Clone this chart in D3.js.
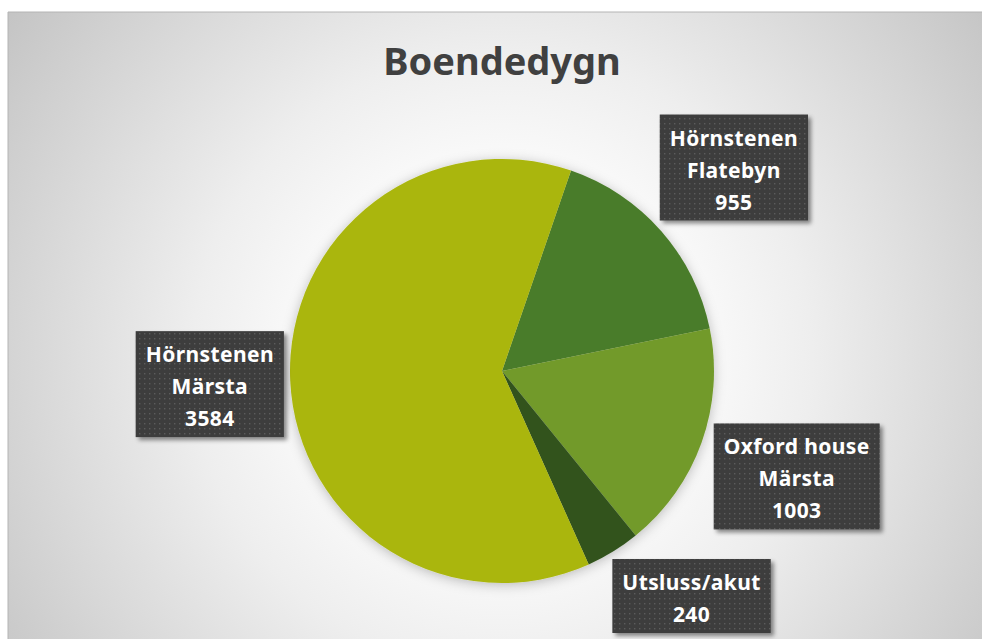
<!DOCTYPE html>
<html lang="sv">
<head>
    <meta charset="UTF-8">
    <title>Boendedygn</title>
    <style>
        body { margin: 0; background: #fff; }
        svg { display: block; }
    </style>
    <script src="https://d3js.org/d3.v7.min.js"></script>
</head>
<body>

<div id="chart"></div>

<script>

    // data
    const categories = ["Hörnstenen Flatebyn", "Oxford house Märsta", "Utsluss/akut", "Hörnstenen Märsta"]
    const labelLines = [["Hörnstenen", "Flatebyn"], ["Oxford house", "Märsta"], ["Utsluss/akut"], ["Hörnstenen", "Märsta"]]
    const values = [955, 1003, 240, 3584]
    const colors = ["#4a7c2a", "#729a2b", "#31531c", "#aab60c"]

    const W = 982, H = 639
    const AREA = { X: 8, Y: 12 }
    const CX = 502, CY = 371, R = 212
    const START = 19 * Math.PI / 180

    const svg = d3.select("#chart").append("svg")
        .attr("width", W)
        .attr("height", H)

    const defs = svg.append("defs")

    const grad = defs.append("radialGradient")
        .attr("id", "bg")
        .attr("gradientUnits", "userSpaceOnUse")
        .attr("cx", CX).attr("cy", 360).attr("r", 620)
    grad.append("stop").attr("offset", 0).attr("stop-color", "#ffffff")
    grad.append("stop").attr("offset", 0.3).attr("stop-color", "#fbfbfb")
    grad.append("stop").attr("offset", 0.5).attr("stop-color", "#eeeeee")
    grad.append("stop").attr("offset", 1).attr("stop-color", "#c2c2c2")

    const dots = defs.append("pattern")
        .attr("id", "dots")
        .attr("patternUnits", "userSpaceOnUse")
        .attr("width", 5).attr("height", 5)
    dots.append("rect").attr("width", 5).attr("height", 5).attr("fill", "#3e3e3e")
    dots.append("rect").attr("x", 2).attr("y", 2).attr("width", 1.4).attr("height", 1.4).attr("fill", "#5c5c5c")

    const boxShadow = defs.append("filter").attr("id", "boxShadow")
        .attr("x", "-20%").attr("y", "-20%").attr("width", "140%").attr("height", "140%")
    boxShadow.append("feDropShadow")
        .attr("dx", 3).attr("dy", 3).attr("stdDeviation", 2)
        .attr("flood-color", "#000").attr("flood-opacity", 0.45)

    const pieShadow = defs.append("filter").attr("id", "pieShadow")
        .attr("x", "-20%").attr("y", "-20%").attr("width", "140%").attr("height", "140%")
    pieShadow.append("feDropShadow")
        .attr("dx", 0).attr("dy", 2).attr("stdDeviation", 6)
        .attr("flood-color", "#000").attr("flood-opacity", 0.25)

    // chart area
    svg.append("rect")
        .attr("x", AREA.X).attr("y", AREA.Y)
        .attr("width", W - AREA.X).attr("height", H - AREA.Y)
        .attr("fill", "url(#bg)")
    svg.append("path")
        .attr("d", `M${AREA.X},${H} V${AREA.Y} H${W}`)
        .attr("fill", "none")
        .attr("stroke", "#b4b4b4")
        .attr("stroke-width", 1)

    // title
    svg.append("text")
        .attr("x", CX)
        .attr("y", 75)
        .attr("text-anchor", "middle")
        .attr("font-family", "'Noto Sans', sans-serif")
        .attr("font-weight", "bold")
        .attr("font-size", "38px")
        .attr("fill", "#404040")
        .text("Boendedygn")

    // pie
    const pie = d3.pie().sort(null).value(d => d)
        .startAngle(START).endAngle(START + 2 * Math.PI)
    const arcs = pie(values)
    const arc = d3.arc().innerRadius(0).outerRadius(R)

    const g = svg.append("g")
        .attr("transform", `translate(${CX}, ${CY})`)

    g.append("g")
        .attr("filter", "url(#pieShadow)")
        .selectAll("path")
        .data(arcs)
        .enter().append("path")
        .attr("d", arc)
        .attr("fill", (d, i) => colors[i])

    // labels
    const LH = 32, PAD = 10, GAP = R + 6
    const bottomLimit = H - 6 - CY

    const lg = g.append("g")
        .attr("font-family", "'Noto Sans', sans-serif")
        .attr("font-weight", "bold")
        .attr("font-size", "21px")
        .attr("letter-spacing", "0.4px")
        .attr("fill", "#fff")

    arcs.forEach((d, i) => {
        const lines = labelLines[i].concat([String(values[i])])
        const grp = lg.append("g")
        const texts = grp.selectAll("text").data(lines).enter().append("text")
            .attr("text-anchor", "middle")
            .text(t => t)
        let tw = 0
        texts.each(function () { tw = Math.max(tw, this.getComputedTextLength()) })
        const hw = tw / 2 + PAD
        const hh = (lines.length * LH + 10) / 2

        // push box out along mid angle until it clears the pie
        const a = (d.startAngle + d.endAngle) / 2
        const ux = Math.sin(a), uy = -Math.cos(a)
        const dist = (cx, cy) => Math.hypot(Math.max(Math.abs(cx) - hw, 0), Math.max(Math.abs(cy) - hh, 0))
        let t = 0
        while (dist(ux * t, uy * t) < GAP) t += 0.5
        let cx = ux * t, cy = uy * t

        // keep inside the chart area, slide along the pie edge
        if (cy + hh > bottomLimit) {
            cy = bottomLimit - hh
            const ry = Math.max(Math.abs(cy) - hh, 0)
            const rx = Math.sqrt(Math.max(GAP * GAP - ry * ry, 0))
            cx = Math.sign(ux) * (rx + hw)
        }

        grp.insert("rect", "text")
            .attr("x", cx - hw).attr("y", cy - hh)
            .attr("width", hw * 2).attr("height", hh * 2)
            .attr("fill", "url(#dots)")
            .attr("filter", "url(#boxShadow)")
        texts
            .attr("x", cx)
            .attr("y", (s, k) => cy - hh + 5 + LH * k + 26)
    })

</script>
</body>
</html>
